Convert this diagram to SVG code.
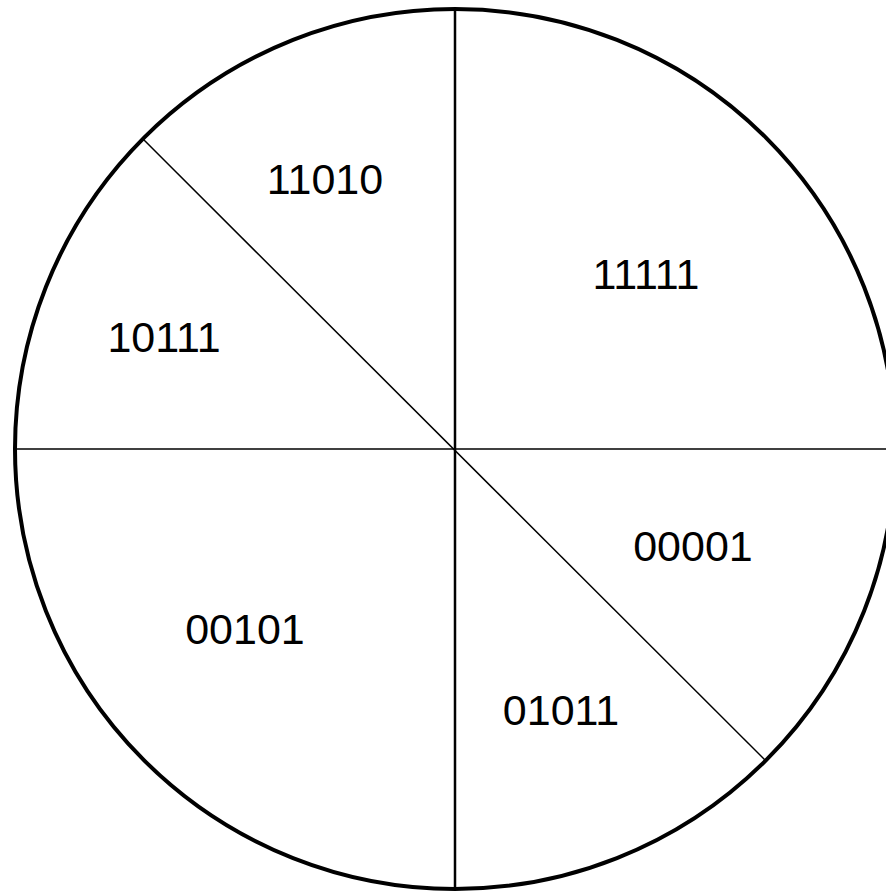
<svg xmlns="http://www.w3.org/2000/svg" width="886" height="893" viewBox="0 0 886 893">
<style>
.lbl{font-family:"Liberation Sans",Arial,sans-serif;font-size:43px;fill:#000;text-anchor:middle}
.ln{stroke:#000;fill:none}
</style>
<rect width="886" height="893" fill="#fff"/>
<g id="circle"><circle cx="455" cy="449" r="440" fill="none" stroke="#000" stroke-width="4"/></g>
<g id="connectors">
<line class="ln" x1="455" y1="9" x2="455" y2="889" stroke-width="2.5"/>
<line class="ln" x1="15" y1="449" x2="895" y2="449" stroke-width="1.5"/>
<line class="ln" x1="143" y1="139" x2="765" y2="760" stroke-width="1.5"/>
</g>
<g id="s11010"><text class="lbl" x="325" y="194">11010</text></g>
<g id="s11111"><text class="lbl" x="646" y="289">11111</text></g>
<g id="s10111"><text class="lbl" x="164" y="352">10111</text></g>
<g id="s00001"><text class="lbl" x="693" y="561">00001</text></g>
<g id="s00101"><text class="lbl" x="245" y="644">00101</text></g>
<g id="s01011"><text class="lbl" x="561" y="725">01011</text></g>
</svg>
